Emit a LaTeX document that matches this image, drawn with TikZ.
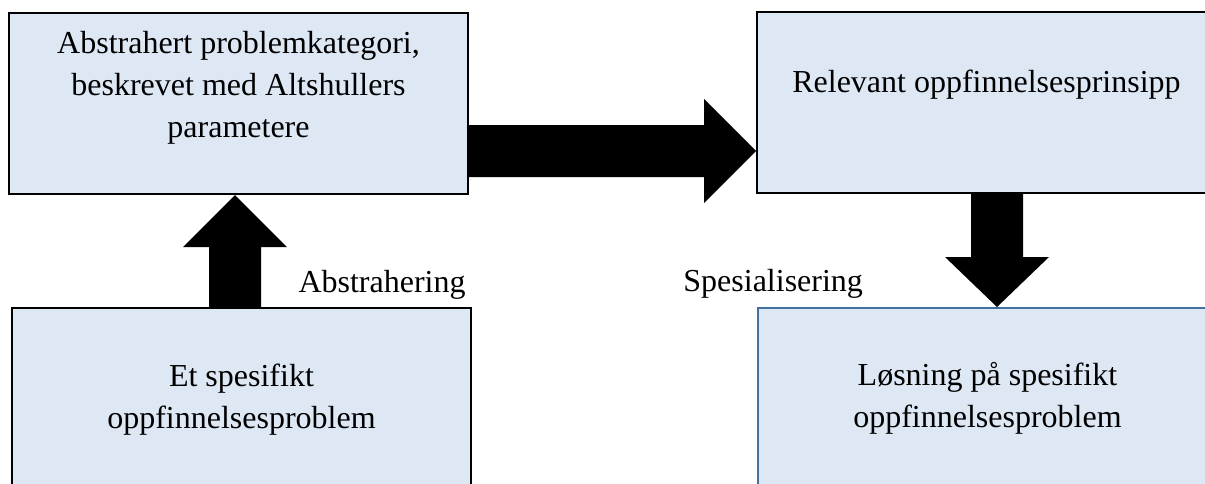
\documentclass[tikz,border=0pt]{standalone}
\usepackage{fontspec}
\setmainfont{Liberation Serif}
\usetikzlibrary{calc}

\definecolor{boxfill}{HTML}{DEE8F4}
\definecolor{edgeblue}{HTML}{41719C}

\tikzset{
  box/.style={draw=black, fill=boxfill, line width=1pt, minimum width=229.5pt,
    minimum height=90.5pt, inner sep=0pt},
  bluebox/.style={box, draw=edgeblue},
  txt/.style={align=center, inner sep=0pt, anchor=base,
    font=\fontsize{16pt}{21pt}\selectfont},
  lbl/.style={inner sep=0pt, font=\fontsize{16pt}{21pt}\selectfont},
}

\begin{document}
\begin{tikzpicture}[x=0.5pt, y=-0.5pt]
            \useasboundingbox (0,0) rectangle (1205,483);
            \clip (0,0) rectangle (1205,483);

            % boxes
            \node[box] (abstract) at (238.5,103.5) {};
            \node[box] (principle) at (986.5,102.5) {};
            \node[box] (problem) at (241.5,398.5) {};
            \node[bluebox] (solution) at (987.5,398.5) {};

            % base = last line
            \node[txt] (abstracttext) at (238.5,137) {Abstrahert problemkategori,\\beskrevet med Altshullers\\parametere};
            \node[txt] (principletext) at (986.5,92) {Relevant oppfinnelsesprinsipp};
            \node[txt] (problemtext) at (241.5,428) {Et spesifikt\\oppfinnelsesproblem};
            \node[txt] (solutiontext) at (987.5,427) {Løsning på spesifikt\\oppfinnelsesproblem};

            % block arrows
            \coordinate (h0) at (abstract.east |- 0,151);
            \coordinate (h1) at (principle.west |- 0,151);
            \fill ($(h0)+(0,-26)$) -- ($(h1)+(-52,-26)$) -- ($(h1)+(-52,-52)$) -- (h1)
                -- ($(h1)+(-52,52)$) -- ($(h1)+(-52,26)$) -- ($(h0)+(0,26)$) -- cycle;

            \coordinate (u0) at (problem.north -| 235,0);
            \coordinate (u1) at (abstract.south -| 235,0);
            \fill ($(u0)+(-26,0)$) -- ($(u1)+(-26,52)$) -- ($(u1)+(-52,52)$) -- (u1)
                -- ($(u1)+(52,52)$) -- ($(u1)+(26,52)$) -- ($(u0)+(26,0)$) -- cycle;

            \coordinate (d0) at (principle.south -| 997,0);
            \coordinate (d1) at (solution.north -| 997,0);
            \fill ($(d0)+(-26,0)$) -- ($(d1)+(-26,-50)$) -- ($(d1)+(-52,-50)$) -- (d1)
                -- ($(d1)+(52,-50)$) -- ($(d1)+(26,-50)$) -- ($(d0)+(26,0)$) -- cycle;

            % labels
            \node[lbl, anchor=base east] (abstracting) at (466,292) {Abstrahering};
            \node[lbl, anchor=base west] (specialising) at (683,291) {Spesialisering};
        \end{tikzpicture}
\end{document}
